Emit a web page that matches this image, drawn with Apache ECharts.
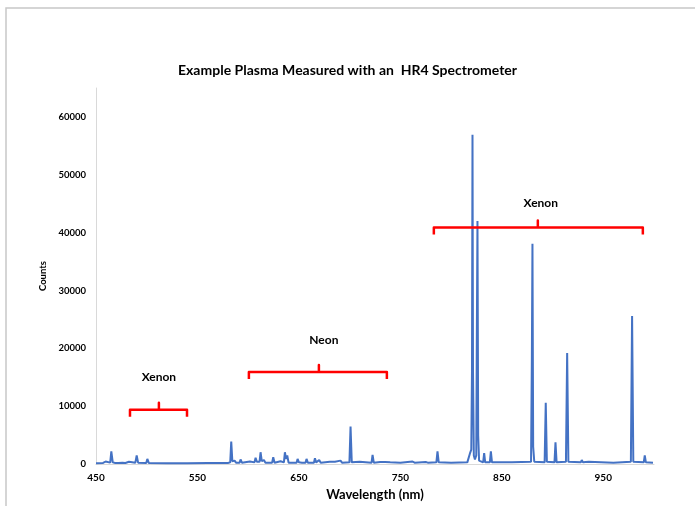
<!DOCTYPE html>
<html>
<head>
<meta charset="utf-8">
<script src="https://cdn.jsdelivr.net/npm/echarts@6/dist/echarts.min.js"></script>
<style>
  html, body { margin: 0; padding: 0; background: #fff; }
  #chart { width: 695px; height: 506px; }
</style>
</head>
<body>
<div id="chart"></div>
<script>
// spectrum: wavelength (nm) and counts
const wavelengths = [
  450, 457, 459.5, 461, 464, 465.1, 466.5, 469, 470.4, 472, 476, 477.6, 479, 482.5, 484,
  488.8, 490.1, 491.5, 499.5, 500.6, 502, 520, 540, 560, 580, 582.3, 583.3, 584.4, 586.6, 588,
  591.5, 592.5, 593.8, 601.7, 603, 606.2, 607.3, 608.5, 611.2, 612.2, 613.4, 615.5, 617,
  623.6, 624.7, 626, 631.9, 633.5, 635.2, 636.2, 637.3, 638.5, 639.8, 647.7, 648.7, 650,
  651.6, 653, 656.5, 657.5, 658.8, 664.8, 665.8, 667, 670, 671.5, 680.5, 682, 685.5, 687,
  691, 692.5, 699.8, 700.9, 702.1, 710, 711.5, 721.6, 722.6, 723.8, 730, 735, 740, 750,
  762, 764, 775, 777, 785.5, 786.6, 787.8, 800, 816, 817.6, 818.5, 819.9, 820.6, 821.1,
  821.6, 822.4, 823.5, 824.8, 825.4, 826, 826.7, 827.6, 831.6, 832.6, 833.6, 838.2, 839.2,
  840.3, 860, 878.8, 879.6, 880.2, 880.9, 882, 892.2, 893.3, 894.4, 901.9, 902.9, 904,
  913.2, 914.4, 915.6, 927.8, 928.8, 930, 935.7, 937, 960, 977.2, 978.4, 979.6, 989.9,
  990.9, 992, 999
]
const counts = [
  150, 200, 450, 200, 250, 2200, 300, 200, 450, 200, 250, 550, 200, 400, 200,
  250, 1500, 250, 200, 900, 200, 150, 150, 200, 200, 300, 3900, 500, 600, 250,
  250, 800, 250, 450, 250, 300, 1100, 400, 400, 2050, 500, 700, 250,
  250, 1200, 250, 500, 250, 300, 2050, 900, 1500, 250, 250, 900, 300,
  500, 250, 250, 900, 250, 250, 1000, 300, 700, 250, 400, 250, 400, 250,
  600, 250, 300, 6500, 300, 400, 250, 250, 1600, 250, 350, 350, 300, 250,
  450, 250, 350, 250, 300, 2200, 300, 250, 300, 500, 1800, 2500, 16000, 56900,
  16000, 1500, 800, 1500, 23000, 42000, 5000, 600, 300, 1900, 300, 300, 2200,
  300, 300, 400, 18000, 38100, 3000, 400, 300, 10600, 400, 300, 3760, 300,
  400, 19200, 400, 300, 700, 300, 400, 250, 250, 400, 25600, 400, 300,
  1500, 300, 250
]

const xTicks = [450, 550, 650, 750, 850, 950]

// element regions marked with red braces
const bandNames = ['Xenon', 'Neon', 'Xenon']
const bandFrom = [483.5, 600.7, 783]
const bandTo = [539.7, 736.7, 989]
const bandMid = [512, 669.7, 885.5]
const bandLevel = [9400, 15900, 40900]
const labelX = [512, 674.6, 888.4]
const labelY = [15000, 21500, 45100]

const chart = echarts.init(document.getElementById('chart'))
const font = 'Lato, "Open Sans", sans-serif'

chart.setOption({
  animation: false,
  backgroundColor: '#fff',
  textStyle: { fontFamily: font },
  title: {
    text: 'Example Plasma Measured with an  HR4 Spectrometer',
    left: 'center',
    top: 58,
    textStyle: { fontFamily: font, fontSize: 14, fontWeight: 'bold', color: '#000' }
  },
  grid: { left: 96, right: 41, top: 88, bottom: 38 },
  xAxis: {
    type: 'value',
    min: 450,
    max: 1000,
    interval: 100,
    name: 'Wavelength (nm)',
    nameLocation: 'middle',
    nameGap: 15,
    nameTextStyle: { fontFamily: font, fontSize: 13, fontWeight: 'bold', color: '#000' },
    axisLine: { show: true, lineStyle: { color: '#d9d9d9' } },
    axisTick: { show: false },
    splitLine: { show: false },
    axisLabel: {
      fontFamily: font, fontSize: 10, fontWeight: 'bold', color: '#000', margin: 9,
      showMaxLabel: false,
      formatter: (v) => (xTicks.includes(v) ? String(v) : '')
    }
  },
  yAxis: {
    type: 'value',
    min: 0,
    max: 65000,
    interval: 10000,
    name: 'Counts',
    nameLocation: 'middle',
    nameGap: 42,
    nameTextStyle: { fontFamily: font, fontSize: 9.5, fontWeight: 'bold', color: '#000' },
    axisLine: { show: true, lineStyle: { color: '#d9d9d9' } },
    axisTick: { show: false },
    splitLine: { show: false },
    axisLabel: {
      fontFamily: font, fontSize: 9.5, fontWeight: 'bold', color: '#000', margin: 10,
      showMaxLabel: false,
      formatter: (v) => String(v)
    }
  },
  series: [
    {
      type: 'line',
      data: wavelengths.map((w, i) => [w, counts[i]]),
      showSymbol: false,
      lineStyle: { color: '#4472C4', width: 2 },
      z: 3
    }
  ]
})

// braces + labels placed in data coordinates
const px = (x, y) => chart.convertToPixel({ gridIndex: 0 }, [x, y])
const graphics = [
  {
    type: 'rect',
    shape: { x: 6, y: 8, width: 720, height: 520 },
    style: { fill: null, stroke: '#c8c8c8', lineWidth: 1.5 },
    silent: true,
    z: 0
  }
]
bandNames.forEach((name, i) => {
  const a = px(bandFrom[i], bandLevel[i])
  const b = px(bandTo[i], bandLevel[i])
  const m = px(bandMid[i], bandLevel[i])
  graphics.push({
    type: 'polyline',
    shape: {
      points: [
        [a[0], a[1] + 7], [a[0], a[1]], [m[0], m[1]], [m[0], m[1] - 7],
        [m[0], m[1]], [b[0], b[1]], [b[0], b[1] + 7]
      ]
    },
    style: { stroke: '#ff0000', lineWidth: 2.5, fill: null, lineJoin: 'round' },
    z: 10
  })
  const t = px(labelX[i], labelY[i])
  graphics.push({
    type: 'text',
    x: t[0],
    y: t[1],
    style: {
      text: name, align: 'center', verticalAlign: 'middle',
      font: 'bold 12px ' + font, fill: '#000'
    },
    z: 10
  })
})
chart.setOption({ graphic: graphics })
</script>
</body>
</html>
